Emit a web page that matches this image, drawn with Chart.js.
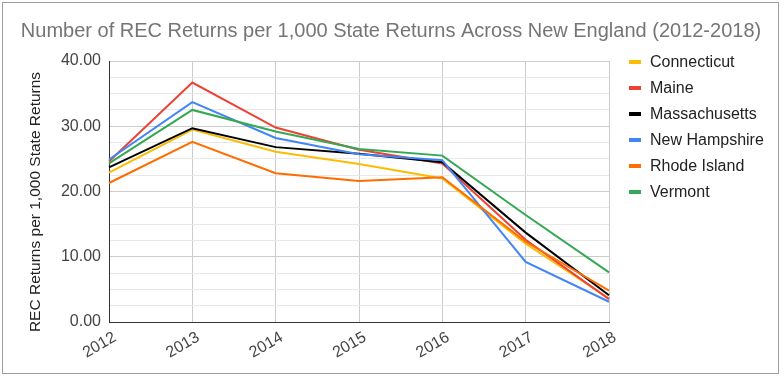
<!DOCTYPE html>
<html lang="en">
<head>
  <meta charset="UTF-8" />
  <title>REC Returns per 1,000 State Returns</title>
  <script src="https://cdn.jsdelivr.net/npm/chart.js"></script>
  <style>
    body { margin: 0; background: #fff; }
    .wrap { position: relative; width: 784px; height: 376px; }
    .frame { position: absolute; left: 2px; top: 2px; width: 777px; height: 372px;
             box-sizing: border-box; border: 1px solid #9e9e9e; pointer-events: none; }
  </style>
</head>
<body>

<div class="wrap">
  <canvas id="recChart" width="784" height="376"></canvas>
  <div class="frame"></div>
</div>

<script>
  const years = ['2012', '2013', '2014', '2015', '2016', '2017', '2018'];
  const states = ['Connecticut', 'Maine', 'Massachusetts', 'New Hampshire', 'Rhode Island', 'Vermont'];
  const colors = ['#fbbc04', '#ea4335', '#000000', '#4285f4', '#ff6d01', '#34a853'];

  const connecticut  = [22.9, 29.5, 26.1, 24.2, 22.0, 12.0, 3.6];
  const maine        = [24.6, 36.7, 29.8, 26.4, 24.3, 12.6, 3.5];
  const massachusetts = [23.7, 29.7, 26.8, 25.8, 24.5, 13.7, 4.1];
  const newHampshire = [24.9, 33.7, 28.2, 25.7, 24.8, 9.2, 3.1];
  const rhodeIsland  = [21.3, 27.6, 22.8, 21.6, 22.2, 12.3, 4.8];
  const vermont      = [24.3, 32.5, 29.2, 26.5, 25.5, 16.4, 7.6];

  const seriesValues = [connecticut, maine, massachusetts, newHampshire, rhodeIsland, vermont];
  const yTicks = [0, 10, 20, 30, 40];

  const chartTitle = 'Number of REC Returns per 1,000 State Returns Across New England (2012-2018)';
  const yAxisTitle = 'REC Returns per 1,000 State Returns';

  const FONT = "'Liberation Sans', Arial, sans-serif";

  // title, y axis title and legend drawn by hand so they sit where the original puts them
  const extraText = {
    id: 'extraText',
    afterDraw(chart) {
      const ctx = chart.ctx;
      ctx.save();
      ctx.textBaseline = 'middle';

      ctx.font = '20px ' + FONT;
      ctx.fillStyle = '#757575';
      ctx.textAlign = 'center';
      ctx.fillText(chartTitle, 391, 31);

      ctx.save();
      ctx.translate(36, 202);
      ctx.rotate(-Math.PI / 2);
      ctx.font = '15.5px ' + FONT;
      ctx.fillStyle = '#222';
      ctx.fillText(yAxisTitle, 0, 0);
      ctx.restore();

      ctx.textAlign = 'left';
      ctx.font = '16px ' + FONT;
      chart.data.datasets.forEach((ds, i) => {
        const y = 62 + i * 26;
        ctx.fillStyle = ds.borderColor;
        ctx.fillRect(629, y - 2, 12, 4);
        ctx.fillStyle = '#222';
        ctx.fillText(ds.label, 650, y + 1);
      });
      ctx.restore();
    }
  };

  new Chart(document.getElementById('recChart'), {
    type: 'line',
    data: {
      labels: years,
      datasets: states.map((name, i) => ({
        label: name,
        data: seriesValues[i],
        borderColor: colors[i],
        backgroundColor: colors[i],
        borderWidth: 2,
        pointRadius: 0,
        tension: 0,
        order: states.length - i
      }))
    },
    options: {
      responsive: false,
      animation: false,
      layout: { padding: { left: 0, right: 175, top: 61, bottom: 0 } },
      plugins: {
        legend: { display: false },
        tooltip: { enabled: false },
        title: { display: false }
      },
      scales: {
        x: {
          offset: false,
          grid: { color: '#cccccc', drawTicks: false },
          border: { color: '#333333' },
          ticks: {
            color: '#444',
            font: { family: FONT, size: 16 },
            minRotation: 30,
            maxRotation: 30,
            labelOffset: 6,
            padding: 6
          },
          afterFit(scale) { scale.height = 54; }
        },
        y: {
          min: 0,
          max: 40,
          grid: {
            drawTicks: false,
            color: c => (yTicks.includes(c.tick.value) ? '#cccccc' : '#e8e8e8')
          },
          border: { color: '#333333' },
          ticks: {
            stepSize: 2.5,
            maxTicksLimit: 20,
            autoSkip: false,
            color: '#444',
            padding: 8,
            font: { family: FONT, size: 16 },
            callback: v => (yTicks.includes(v) ? v.toFixed(2) : '')
          },
          afterFit(scale) { scale.width = 109; }
        }
      }
    },
    plugins: [extraText]
  });
</script>

</body>
</html>
